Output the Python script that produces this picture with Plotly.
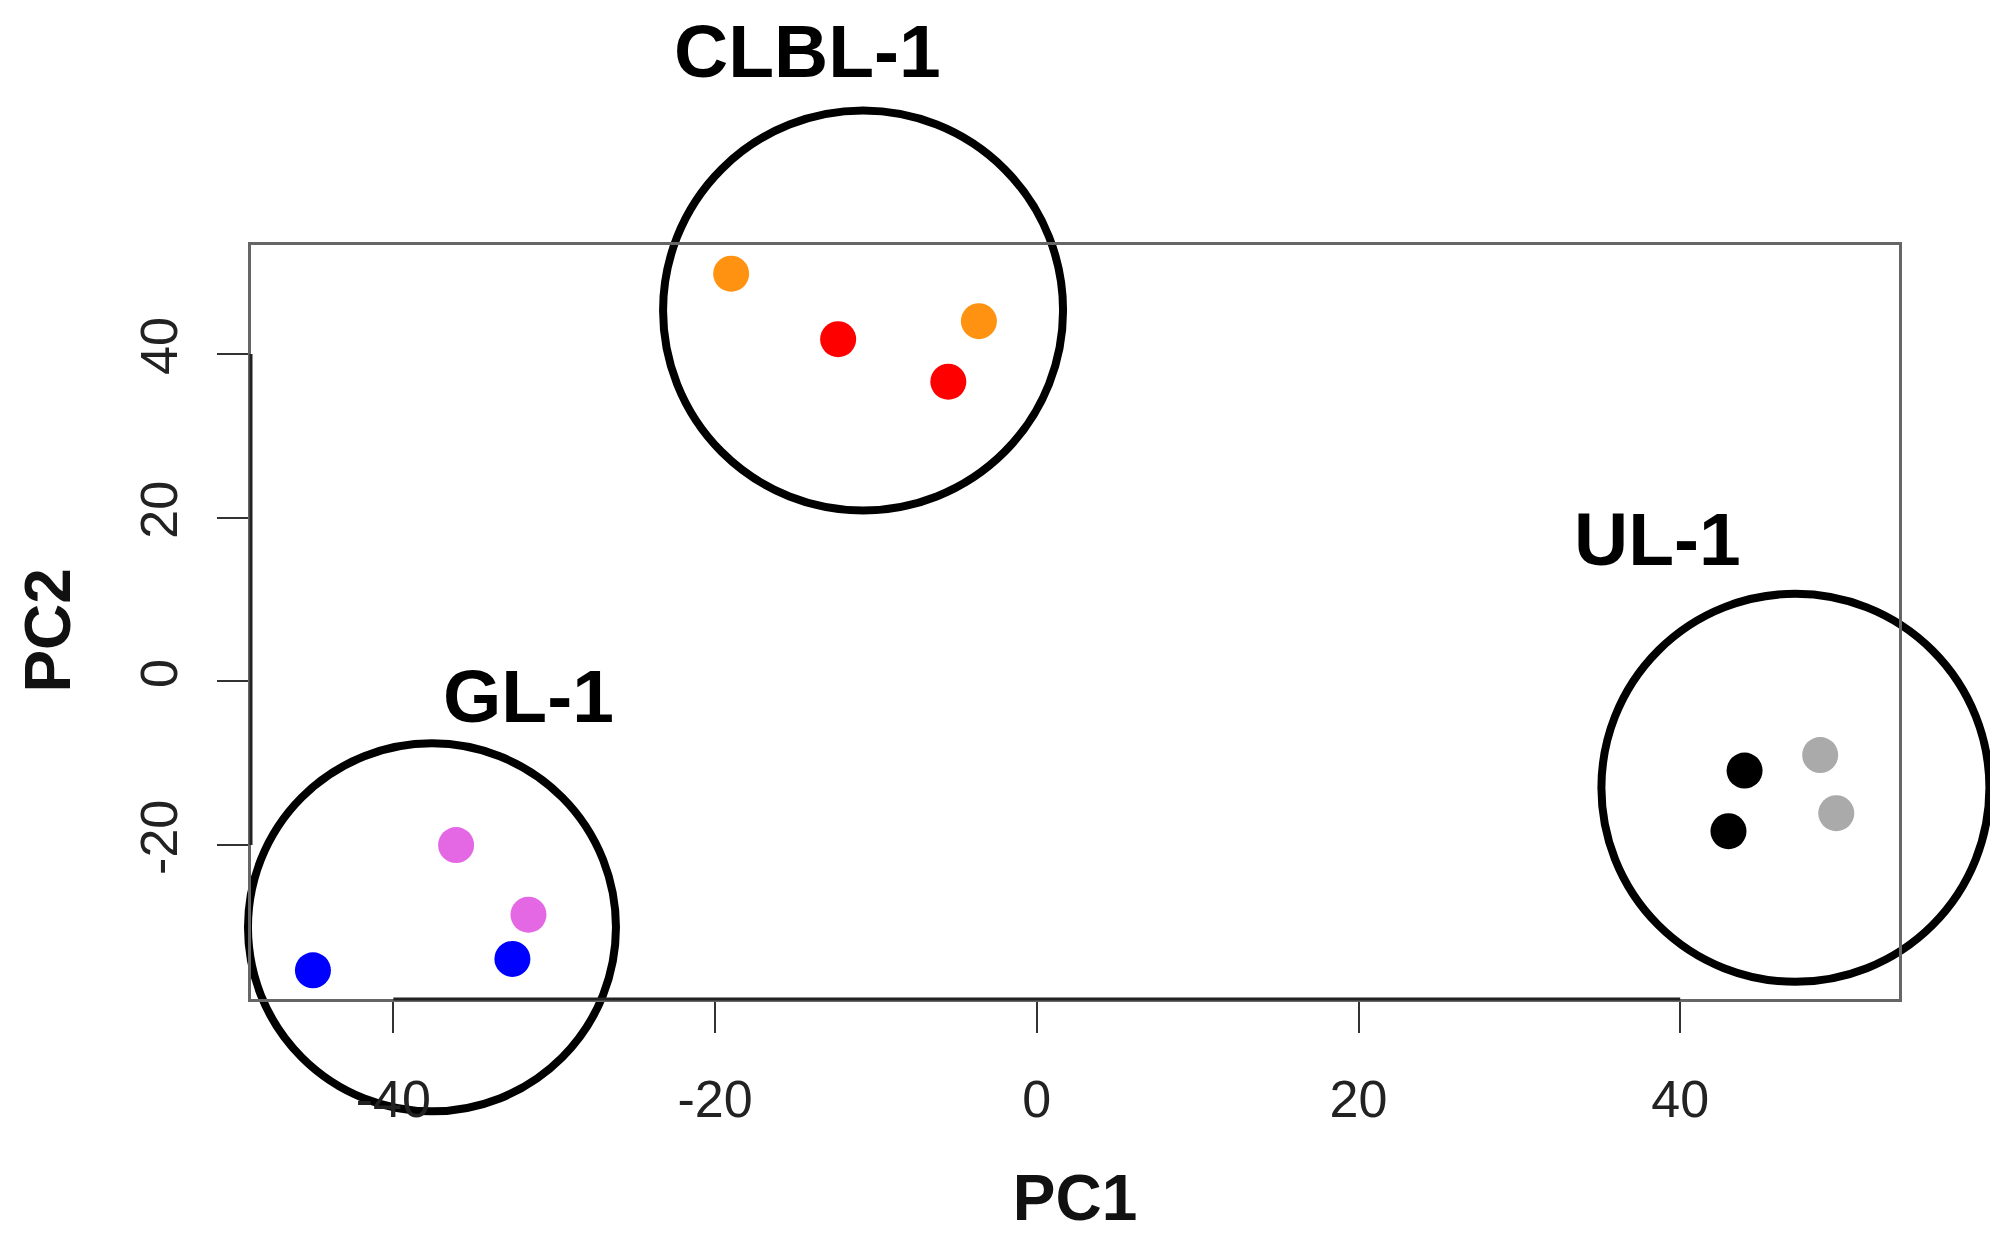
import plotly.graph_objects as go

# ---- data ----
pc1 = [-19.0, -3.6, -12.35, -5.5, -36.1, -31.6, -45.0, -32.6, 44.0, 43.0, 48.7, 49.7]
pc2 = [49.8, 44.0, 41.8, 36.6, -20.0, -28.5, -35.3, -33.9, -10.9, -18.3, -9.0, -16.1]
sample_group = ["CLBL-1"] * 4 + ["GL-1"] * 4 + ["UL-1"] * 4
sample_color = ["#FF9210", "#FF9210", "#FF0000", "#FF0000",
                "#E468E4", "#E468E4", "#0000FF", "#0000FF",
                "#000000", "#000000", "#AAAAAA", "#AAAAAA"]

cluster_names = ["CLBL-1", "GL-1", "UL-1"]
cluster_cx = [-10.8, -37.6, 47.16]
cluster_cy = [45.3, -30.05, -13.0]
label_x = [-14.25, -31.6, 38.6]
label_y = [None, -1.8, 17.4]   # CLBL-1 sits above the plot box (placed by pixel shift)

x_tickvals = [-40, -20, 0, 20, 40]
x_ticktext = ["-40", "-20", "0", "20", "40"]
y_tickvals = [-20, 0, 20, 40]
y_ticktext = ["-20", "0", "20", "40"]

# ---- styles ----
circle_px = [400, 368, 388]
FONT = "Liberation Sans, Arial, Helvetica, sans-serif"

fig = go.Figure()

fig.add_trace(go.Scatter(
    x=pc1, y=pc2, mode="markers",
    marker=dict(color=sample_color, size=36, opacity=1, line=dict(width=0)),
    cliponaxis=False, showlegend=False, hoverinfo="x+y",
))

fig.add_trace(go.Scatter(
    x=cluster_cx, y=cluster_cy, mode="markers",
    marker=dict(symbol="circle-open", size=circle_px, color="black", opacity=1,
                line=dict(width=8, color="black")),
    cliponaxis=False, showlegend=False, hoverinfo="skip",
))

label_font = dict(family=FONT, size=75, color="black")
for name, lx, ly in zip(cluster_names, label_x, label_y):
    if ly is None:
        fig.add_annotation(x=lx, xref="x", y=1, yref="paper", yshift=194,
                           text="<b>%s</b>" % name, showarrow=False,
                           xanchor="center", yanchor="middle", font=label_font)
    else:
        fig.add_annotation(x=lx, xref="x", y=ly, yref="y",
                           text="<b>%s</b>" % name, showarrow=False,
                           xanchor="center", yanchor="middle", font=label_font)

# y-axis title (placed slightly below the plot centre, as in the reference)
fig.add_annotation(x=0, xref="paper", xshift=-203, y=6.2, yref="y",
                   text="<b>PC2</b>", textangle=-90, showarrow=False,
                   xanchor="center", yanchor="middle",
                   font=dict(family=FONT, size=64, color="#111"))

# darker axis segments between first and last tick (R style)
fig.add_shape(type="line", xref="x", yref="paper", x0=x_tickvals[0], x1=x_tickvals[-1],
              y0=0, y1=0, line=dict(color="#222", width=3))
fig.add_shape(type="line", xref="paper", yref="y", x0=0, x1=0,
              y0=y_tickvals[0], y1=y_tickvals[-1], line=dict(color="#222", width=3))

fig.update_layout(
    width=1990, height=1226,
    margin=dict(l=243, r=99, t=237, b=235, autoexpand=False),
    plot_bgcolor="white", paper_bgcolor="white",
    font=dict(family=FONT, color="#222"),
    xaxis=dict(range=[-48.85, 53.6], tickvals=x_tickvals, ticktext=x_ticktext,
               showgrid=False, zeroline=False, showline=True, mirror=True,
               linecolor="#666", linewidth=3, ticks="outside", ticklen=31,
               tickwidth=2, tickcolor="#333", tickfont=dict(size=52, color="#222"),
               ticklabelstandoff=22,
               title=dict(text="<b>PC1</b>", font=dict(size=64, color="#111"), standoff=69),
               automargin=False),
    yaxis=dict(range=[-38.8, 53.3], tickvals=y_tickvals, ticktext=y_ticktext,
               showgrid=False, zeroline=False, showline=True, mirror=True,
               linecolor="#666", linewidth=3, ticks="outside", ticklen=31,
               tickwidth=2, tickcolor="#333", tickfont=dict(size=52, color="#222"),
               tickangle=-90, ticklabelstandoff=19,
               automargin=False),
)

fig.write_html("out.html")
